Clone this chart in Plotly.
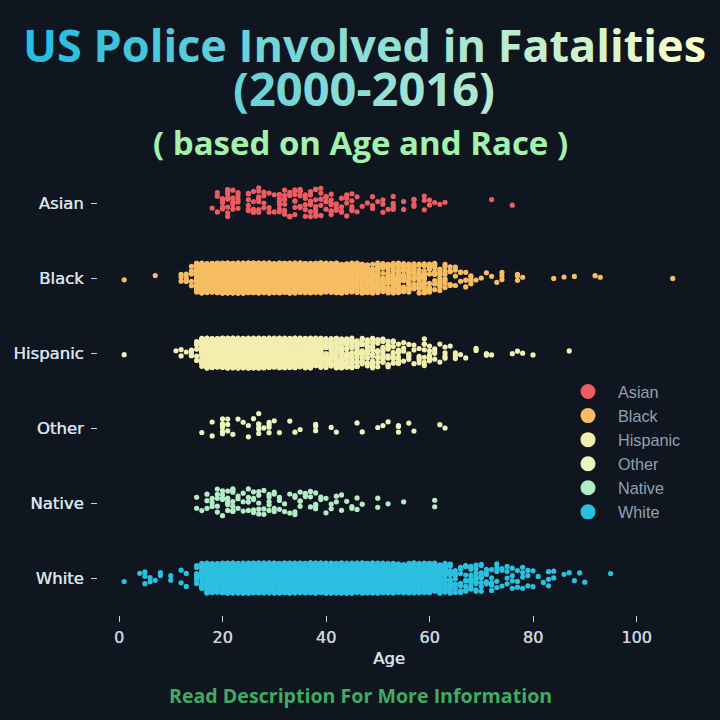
import numpy as np
import plotly.graph_objects as go

races = ["Asian", "Black", "Hispanic", "Other", "Native", "White"]
colors = ["#ee5b60", "#f6bd63", "#f2efae", "#e8f7bc", "#b4ecc6", "#2bbfe0"]

asian_ages = [18, 19, 20, 21, 22, 23, 25, 26, 27, 28, 29, 30, 31, 32, 33, 34, 35, 36, 37, 38, 39, 40, 41, 42, 43, 44,
              45, 46, 47, 48, 49, 50, 51, 52, 53, 55, 57, 59, 60, 61, 62, 63, 72, 76]
asian_counts = [1, 3, 5, 9, 7, 5, 6, 5, 8, 4, 3, 2, 6, 6, 6, 7, 6, 5, 6, 7, 6, 6, 7, 3, 5, 5,
                5, 2, 1, 1, 3, 1, 3, 1, 5, 2, 4, 3, 2, 1, 1, 1, 1, 1]

black_ages = [1, 7, 12, 13, 14, 15, 16, 17, 18, 19, 20, 21, 22, 23, 24, 25, 26, 27, 28, 29, 30, 31, 32, 33, 34, 35,
              36, 37, 38, 39, 40, 41, 42, 43, 44, 45, 46, 47, 48, 49, 50, 51, 52, 53, 54, 55, 56, 57, 58, 59, 60,
              61, 62, 63, 64, 65, 66, 67, 68, 69, 70, 71, 72, 73, 74, 77, 78, 84, 86, 88, 92, 93, 107]
black_counts = [1, 1, 3, 4, 5, 40, 60, 80, 120, 150, 170, 190, 200, 200, 200, 190, 190, 180, 170, 160, 150, 140, 130,
                120, 110, 100, 90, 85, 80, 75, 70, 65, 60, 55, 50, 45, 40, 36, 34, 32, 30, 28, 26, 26, 24, 22, 20,
                20, 20, 18, 15, 12, 10, 8, 6, 4, 3, 3, 5, 1, 1, 1, 1, 1, 3, 3, 1, 1, 1, 1, 1, 1, 1]

hispanic_ages = [1, 11, 12, 13, 14, 15, 16, 17, 18, 19, 20, 21, 22, 23, 24, 25, 26, 27, 28, 29, 30, 31, 32, 33, 34,
                 35, 36, 37, 38, 39, 40, 41, 42, 43, 44, 45, 46, 47, 48, 49, 50, 51, 52, 53, 54, 55, 56, 57, 58,
                 59, 60, 61, 62, 63, 64, 65, 66, 67, 69, 71, 72, 76, 77, 78, 80, 87]
hispanic_counts = [1, 1, 2, 1, 4, 6, 35, 50, 90, 110, 130, 140, 140, 130, 130, 120, 110, 100, 100, 90, 85, 75, 70, 65,
                   60, 55, 50, 45, 40, 40, 36, 34, 30, 28, 26, 24, 22, 16, 14, 18, 12, 14, 12, 10, 8, 4, 5, 3, 5,
                   7, 6, 4, 2, 4, 1, 3, 1, 1, 2, 3, 1, 1, 1, 1, 1, 1]

other_ages = [16, 18, 20, 21, 22, 23, 24, 25, 26, 27, 28, 29, 30, 31, 33, 34, 35, 38, 41, 42, 46, 47, 50, 51, 52, 54,
              56, 57, 62, 63]
other_counts = [1, 2, 6, 3, 1, 1, 1, 2, 1, 6, 1, 4, 1, 1, 1, 1, 1, 3, 1, 1, 1, 1, 1, 1, 1, 3, 1, 1, 1, 1]

native_ages = [15, 16, 17, 18, 19, 20, 21, 22, 23, 24, 25, 26, 27, 28, 29, 30, 31, 32, 33, 34, 35, 36, 37, 38, 39,
               40, 41, 42, 43, 44, 45, 46, 47, 50, 52, 55, 61]
native_counts = [2, 1, 3, 3, 5, 5, 7, 8, 3, 3, 4, 5, 5, 3, 5, 4, 3, 2, 2, 4, 4, 3, 3, 4, 2, 2, 2, 2, 2, 1, 2, 2, 1,
                 2, 1, 1, 2]

white_ages = [1, 4, 5, 6, 7, 8, 10, 12, 13, 15, 16, 17, 18, 19, 20, 21, 22, 23, 24, 25, 26, 27, 28, 29, 30, 31, 32,
              33, 34, 35, 36, 37, 38, 39, 40, 41, 42, 43, 44, 45, 46, 47, 48, 49, 50, 51, 52, 53, 54, 55, 56, 57,
              58, 59, 60, 61, 62, 63, 64, 65, 66, 67, 68, 69, 70, 71, 72, 73, 74, 75, 76, 77, 78, 79, 80, 81, 82,
              83, 84, 86, 87, 88, 89, 90, 95]
white_counts = [1, 1, 3, 2, 1, 2, 2, 2, 2, 8, 25, 50, 90, 120, 150, 170, 180, 190, 190, 190, 190, 190, 185, 180, 180,
                175, 170, 170, 165, 160, 160, 155, 150, 150, 150, 145, 140, 135, 130, 130, 125, 120, 115, 110, 105,
                100, 95, 90, 85, 80, 75, 70, 65, 60, 55, 50, 45, 35, 28, 8, 8, 9, 12, 10, 10, 5, 6, 5, 3, 4, 4, 3,
                4, 3, 2, 1, 1, 3, 2, 1, 1, 1, 1, 1, 1]

age_ticks = [0, 20, 40, 60, 80, 100]

all_ages = [asian_ages, black_ages, hispanic_ages, other_ages, native_ages, white_ages]
all_counts = [asian_counts, black_counts, hispanic_counts, other_counts, native_counts, white_counts]
# sparse traces get less jitter from plotly, so their boxes are a bit wider
box_widths = [0.41, 0.40, 0.40, 0.46, 0.44, 0.40]

BG = "#0f1620"
L, R, T, B = 98, 40, 170, 105


def px(x):
    return (x - L) / (720 - L - R)


def py(y):
    return 1 - (y - T) / (720 - T - B)


def gradient_text(text, t0, t1):
    # left to right colour run over the title
    c0 = np.array([41, 190, 224])
    c1 = np.array([246, 255, 200])
    out = ""
    for i, ch in enumerate(text):
        if ch == " ":
            out += ch
            continue
        t = t0 + (t1 - t0) * i / max(len(text) - 1, 1)
        r, g, b = (c0 + (c1 - c0) * t).astype(int)
        out += f'<span style="color:rgb({r},{g},{b})">{ch}</span>'
    return "<b>" + out + "</b>"


fig = go.Figure()

for race, color, ages, counts, w in zip(races, colors, all_ages, all_counts, box_widths):
    x = np.repeat(ages, counts)
    fig.add_trace(go.Box(
        x=x,
        y=[race] * len(x),
        orientation="h",
        boxpoints="all",
        jitter=1,
        pointpos=0,
        width=w,
        fillcolor="rgba(0,0,0,0)",
        line=dict(width=0, color="rgba(0,0,0,0)"),
        marker=dict(color=color, size=5.2),
        showlegend=False,
        name=race,
    ))
    # circles for the legend, box traces only give a little square
    fig.add_trace(go.Scatter(
        x=[None],
        y=[race],
        mode="markers",
        marker=dict(color=color, size=15),
        name=race,
        legendgroup=race,
    ))

title_font = "Open Sans"
fig.add_annotation(x=px(364), y=py(44), text=gradient_text("US Police Involved in Fatalities", 0, 1),
                   font=dict(family=title_font, size=45))
fig.add_annotation(x=px(364), y=py(88), text=gradient_text("(2000-2016)", 0.3, 0.68),
                   font=dict(family=title_font, size=47))
fig.add_annotation(x=px(360), y=py(142), text="<b>( based on Age and Race )</b>",
                   font=dict(family=title_font, size=33, color="#a3f2ac"))
fig.add_annotation(x=px(360), y=py(695), text="<b>Read Description For More Information</b>",
                   font=dict(family=title_font, size=19.6, color="#42aa62"))
for a in fig.layout.annotations:
    a.update(xref="paper", yref="paper", showarrow=False, xanchor="center", yanchor="middle")

fig.update_xaxes(
    range=[(L - 119) / 5.175, (720 - R - 119) / 5.175],
    tickvals=age_ticks,
    showgrid=False,
    zeroline=False,
    showline=False,
    ticks="outside",
    ticklen=6,
    tickcolor="#c8d2de",
    ticklabelstandoff=2,
    tickfont=dict(family="DejaVu Sans", size=16, color="#c8d2de", shadow="0.4px 0 0 #c8d2de"),
    title=dict(text="Age", font=dict(family="DejaVu Sans", size=16.5, color="#d8e0ea", shadow="0.4px 0 0 #d8e0ea"),
               standoff=6),
)
fig.update_yaxes(
    type="category",
    categoryorder="array",
    categoryarray=races,
    range=[5.493, -0.44],
    showgrid=False,
    zeroline=False,
    showline=False,
    ticks="outside",
    ticklen=6,
    tickcolor="#c8d2de",
    ticklabelstandoff=4,
    tickfont=dict(family="DejaVu Sans", size=16.5, color="#d8e0ea", shadow="0.4px 0 0 #d8e0ea"),
)
fig.update_layout(
    width=720,
    height=720,
    autosize=False,
    margin=dict(l=L, r=R, t=T, b=B, pad=0),
    paper_bgcolor=BG,
    plot_bgcolor=BG,
    boxmode="overlay",
    legend=dict(
        x=px(558),
        y=py(374.5),
        xanchor="left",
        yanchor="top",
        bgcolor="rgba(0,0,0,0)",
        font=dict(family="Liberation Sans", size=16.2, color="#8fa0b2"),
        tracegroupgap=0,
        itemwidth=50,
    ),
)

# page body has a default 8px margin, drop it so the figure fills the window
fig.write_html("out.html", config=dict(displayModeBar=False), post_script="document.body.style.margin='0';")
